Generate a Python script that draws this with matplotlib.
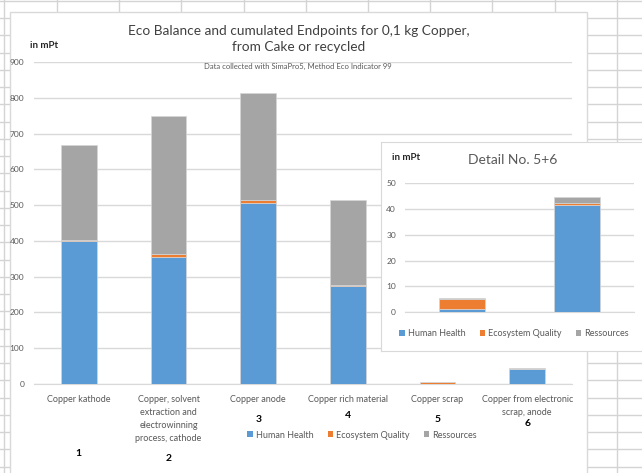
import numpy as np
import matplotlib.pyplot as plt
from matplotlib.patches import Patch, Rectangle

W, H = 642, 473

categories = ["Copper kathode",
              "Copper, solvent\nextraction and\nelectrowinning\nprocess, cathode",
              "Copper anode", "Copper rich material", "Copper scrap",
              "Copper from electronic\nscrap, anode"]
numbers = ["1", "2", "3", "4", "5", "6"]
number_y = [453, 458, 419, 415, 420, 423]   # pixel rows of the bold numbers

human_health = [399, 355, 505, 273, 1.1, 41.5]
ecosystem = [4, 8, 8, 4, 3.8, 0.9]
resources = [264, 386, 301, 236, 0.6, 2.3]

detail_idx = [4, 5]

series_names = ["Human Health", "Ecosystem Quality", "Ressources"]
COLORS = ["#5b9bd5", "#ed7d31", "#a5a5a5"]
TXT = "#595959"
GRID = "#d9d9d9"
FONT = "Lato"


def box(x0, y0, x1, y1):
    # pixel box (top-left origin) -> figure fraction rect
    return [x0 / W, 1 - y1 / H, (x1 - x0) / W, (y1 - y0) / H]


def stacked(ax, x, hh, eq, rs, width):
    b1 = np.array(hh)
    b2 = b1 + np.array(eq)
    ax.bar(x, hh, width, color=COLORS[0], edgecolor="#d6d6d6", linewidth=0.5, zorder=3)
    ax.bar(x, eq, width, bottom=b1, color=COLORS[1], edgecolor="#d6d6d6", linewidth=0.5, zorder=3)
    ax.bar(x, rs, width, bottom=b2, color=COLORS[2], edgecolor="#d6d6d6", linewidth=0.5, zorder=3)


def style(ax, ymax, step):
    ax.set_ylim(0, ymax)
    ax.set_yticks(np.arange(0, ymax + 1, step))
    ax.grid(axis="y", color=GRID, linewidth=1, zorder=0)
    for s in ["top", "right", "left"]:
        ax.spines[s].set_visible(False)
    ax.spines["bottom"].set_color(GRID)
    ax.tick_params(length=0, colors=TXT, labelsize=6.5)
    ax.set_facecolor("none")
    for lab in ax.get_yticklabels():
        lab.set_fontfamily(FONT)


fig = plt.figure(figsize=(W / 100, H / 100), dpi=100)

# spreadsheet background
bg = fig.add_axes([0, 0, 1, 1])
bg.set_xlim(0, W)
bg.set_ylim(H, 0)
bg.axis("off")
for xc in [4] + list(57 + 62.2 * np.arange(-1, 10)):
    bg.axvline(xc, color="#d4d4d4", linewidth=1, zorder=0)
for yr in 0.8 + 17.25 * np.arange(0, 29):
    bg.axhline(yr, color="#d4d4d4", linewidth=1, zorder=0)
bg.add_patch(Rectangle((10, 12), 577, 480, facecolor="white", edgecolor=GRID, linewidth=1, zorder=2))

# main chart
ax = fig.add_axes(box(34, 62, 572, 384))
x = np.arange(len(categories))
stacked(ax, x, human_health, ecosystem, resources, 0.4)
ax.set_xlim(-0.5, len(categories) - 0.5)
style(ax, 900, 100)
ax.set_xticks(x)
ax.set_xticklabels(categories, fontsize=6.5, color=TXT, fontfamily=FONT, linespacing=1.55)
ax.tick_params(axis="x", pad=8)
ax.tick_params(axis="y", pad=7, labelsize=6)

for i, (n, yp) in enumerate(zip(numbers, number_y)):
    xf = (34 + (572 - 34) * (i + 0.5) / len(categories)) / W
    fig.text(xf, 1 - yp / H, n, ha="center", va="center", fontsize=7.5,
             fontweight="bold", fontfamily=FONT, color="black")

fig.text(299 / W, 1 - 39 / H,
         "Eco Balance and cumulated Endpoints for 0,1 kg Copper,\nfrom Cake or recycled",
         ha="center", va="center", fontsize=9.8, color="#404040", fontfamily=FONT, linespacing=1.4)
fig.text(298 / W, 1 - 66 / H, "Data collected with SimaPro5, Method Eco Indicator 99",
         ha="center", va="center", fontsize=5.5, color=TXT, fontfamily=FONT)
fig.text(30 / W, 1 - 45 / H, "in mPt", ha="left", va="center", fontsize=7,
         fontweight="bold", fontfamily=FONT, color="#262626")

handles = [Patch(facecolor=c, edgecolor="none") for c in COLORS]
fig.legend(handles, series_names, loc="center", bbox_to_anchor=(362 / W, 1 - 435 / H),
           ncol=3, frameon=False, handlelength=0.6, handleheight=0.6, handletextpad=0.3,
           columnspacing=1.6, prop={"family": FONT, "size": 6.5}, labelcolor=TXT)

# detail inset
ibg = fig.add_axes(box(381, 142, 650, 351))
ibg.set_xticks([])
ibg.set_yticks([])
ibg.set_facecolor("white")
for s in ibg.spines.values():
    s.set_color(GRID)

iax = fig.add_axes(box(405, 183.3, 634, 312))
xi = np.arange(len(detail_idx))
stacked(iax, xi, [human_health[i] for i in detail_idx], [ecosystem[i] for i in detail_idx],
        [resources[i] for i in detail_idx], 0.4)
iax.set_xlim(-0.5, len(detail_idx) - 0.5)
style(iax, 50, 10)
iax.set_xticks([])
iax.tick_params(axis="y", pad=6.5, labelsize=6)

fig.text(513 / W, 1 - 160 / H, "Detail No. 5+6", ha="center", va="center",
         fontsize=10, color=TXT, fontfamily=FONT)
fig.text(392 / W, 1 - 158 / H, "in mPt", ha="left", va="center", fontsize=7,
         fontweight="bold", fontfamily=FONT, color="#262626")
fig.legend(handles, series_names, loc="center", bbox_to_anchor=(514 / W, 1 - 334 / H),
           ncol=3, frameon=False, handlelength=0.6, handleheight=0.6, handletextpad=0.3,
           columnspacing=1.6, prop={"family": FONT, "size": 6.5}, labelcolor=TXT)

fig.savefig("out.png", dpi=100)
